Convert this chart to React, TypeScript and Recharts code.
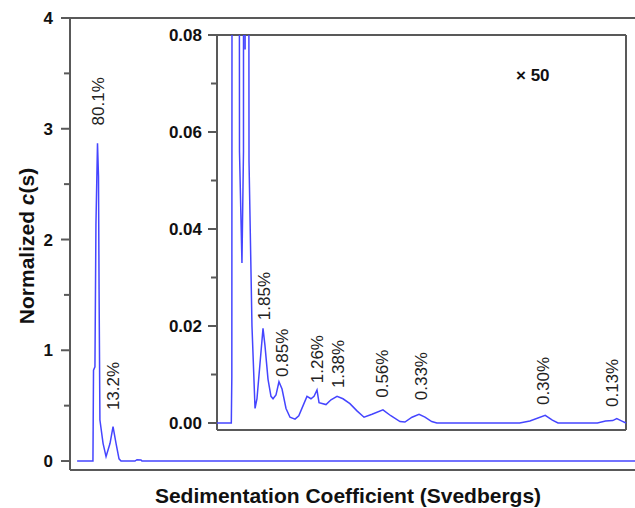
import React from 'react';
import { LineChart, Line, XAxis, YAxis, ReferenceLine, ReferenceDot } from 'recharts';

const FONT = '"Liberation Sans", Arial, Helvetica, sans-serif';
const BLUE = '#4545ff';
const AXIS = '#595959';

// full scale c(s) distribution (s in Svedbergs)
const mainS = [0.5, 1.61, 1.65, 1.75, 1.82, 1.93, 2.0, 2.04, 2.1, 2.32, 2.53, 2.81, 3.02, 3.23, 3.44, 3.58, 4.56, 4.7, 4.98, 5.05, 40];
const mainC = [0, 0, 0.82, 0.85, 2.13, 2.87, 2.57, 1.55, 0.37, 0.16, 0.04, 0.16, 0.31, 0.16, 0.02, 0, 0, 0.012, 0.01, 0, 0];

// inset, same distribution magnified x50
const insetS = [
  0, 1.4, 1.45, 1.56, 2.05, 2.2, 2.44, 2.59, 2.64, 2.7, 2.75, 2.8, 3.03, 3.13, 3.42, 3.72,
  3.91, 4.5, 4.69, 4.99, 5.28, 5.48, 5.77, 6.06, 6.36, 6.75, 7.14, 7.63, 8.0, 8.5, 8.8,
  9.19, 9.49, 9.78, 9.98, 10.66, 11.15, 11.74, 12.32, 13.0, 13.69, 14.38, 15.16, 16.23,
  17.0, 17.9, 18.38, 19.07, 19.76, 20.34, 21.0, 21.5, 29.6, 30.6, 32.1, 32.8, 33.35,
  37.2, 38.0, 38.7, 39.1, 39.6, 40,
];
const insetC = [
  0, 0, 0.0095, 0.5, 0.5, 0.056, 0.033, 0.056, 0.5, 0.5, 0.077, 0.5, 0.3, 0.054, 0.02, 0.003,
  0.005, 0.0195, 0.016, 0.009, 0.0055, 0.005, 0.0058, 0.0085, 0.007, 0.003, 0.0012, 0.0008, 0.0015, 0.004, 0.0055,
  0.005, 0.0055, 0.0068, 0.0042, 0.0038, 0.0048, 0.0055, 0.005, 0.004, 0.0025, 0.0012, 0.0018, 0.0027,
  0.0015, 0.0003, 0.0002, 0.0012, 0.0018, 0.0012, 0.0003, 0, 0, 0.0004, 0.0016, 0.0006, 0,
  0, 0.0004, 0.0005, 0.0009, 0.0004, 0,
];

const mainTicks = [0, 0.5, 1, 1.5, 2, 2.5, 3, 3.5, 4];
const insetTicks = [0, 0.01, 0.02, 0.03, 0.04, 0.05, 0.06, 0.07, 0.08];

// peak annotations: label, s position, value where the label starts
const mainPeakText = ['80.1%', '13.2%'];
const mainPeakS = [1.96, 3.02];
const mainPeakAt = [3.03, 0.46];

const insetPeakText = ['1.85%', '0.85%', '1.26%', '1.38%', '0.56%', '0.33%', '0.30%', '0.13%'];
const insetPeakS = [4.6, 6.36, 9.78, 11.83, 16.14, 19.95, 31.88, 38.63];
const insetPeakAt = [0.0212, 0.0095, 0.0082, 0.0072, 0.0052, 0.0047, 0.0037, 0.0033];

const MAIN_Y: [number, number] = [-0.081, 4];
const INSET_Y: [number, number] = [-0.00144, 0.08];
const S_RANGE: [number, number] = [0, 40];

const mainData = mainS.map((s, i) => ({ s, c: mainC[i] }));
const insetData = insetS.map((s, i) => ({ s, c: insetC[i] }));

const MainTick = (props: any) => {
  const { y, payload } = props;
  const v = payload.value;
  const major = Number.isInteger(v);
  return (
    <g>
      <line x1={major ? 61 : 64} x2={70} y1={y} y2={y} stroke={AXIS} strokeWidth={2} />
      {major && (
        <text x={53} y={y} dy="0.36em" textAnchor="end" fontFamily={FONT} fontWeight="bold" fontSize={17} fill="#111">
          {v}
        </text>
      )}
    </g>
  );
};

const InsetTick = (props: any) => {
  const { y, payload } = props;
  const v = payload.value;
  const major = Math.round(v * 100) % 2 === 0;
  return (
    <g>
      <line x1={major ? 58 : 61} x2={67} y1={y} y2={y} stroke={AXIS} strokeWidth={2} />
      {major && (
        <text x={52} y={y} dy="0.36em" textAnchor="end" fontFamily={FONT} fontWeight="bold" fontSize={17} fill="#111">
          {v.toFixed(2)}
        </text>
      )}
    </g>
  );
};

const InsetRightTick = (props: any) => {
  const { y } = props;
  return <line x1={470} x2={476} y1={y} y2={y} stroke={AXIS} strokeWidth={2} />;
};

const peakLabel = (text: string) => (props: any) => {
  const vb = props.viewBox || {};
  const cx = vb.x + (vb.width || 0) / 2;
  const cy = vb.y + (vb.height || 0) / 2;
  return (
    <text
      x={cx}
      y={cy}
      transform={`rotate(-90 ${cx} ${cy})`}
      textAnchor="start"
      dy="0.35em"
      fontFamily={FONT}
      fontSize={17}
      fill="#222"
    >
      {text}
    </text>
  );
};

export default function App() {
  return (
    <div
      style={{
        position: 'absolute',
        left: 0,
        top: 0,
        width: 635,
        height: 508,
        overflow: 'hidden',
        background: '#fff',
        fontFamily: FONT,
      }}
    >
      <LineChart width={645} height={508} data={mainData} margin={{ top: 18, right: 5, bottom: 38, left: 10 }}>
        <XAxis dataKey="s" type="number" domain={S_RANGE} tick={false} tickLine={false} height={0} axisLine={false} />
        <YAxis
          type="number"
          domain={MAIN_Y}
          allowDataOverflow
          ticks={mainTicks}
          interval={0}
          width={60}
          tickLine={false}
          tick={<MainTick />}
          axisLine={false}
        />
        <ReferenceLine y={MAIN_Y[1]} stroke={AXIS} strokeWidth={2} />
        <ReferenceLine y={MAIN_Y[0]} stroke={AXIS} strokeWidth={2} />
        <ReferenceLine x={S_RANGE[0]} stroke={AXIS} strokeWidth={2} />
        <Line type="linear" dataKey="c" stroke={BLUE} strokeWidth={1.5} dot={false} isAnimationActive={false} />
        {mainPeakText.map((t, i) => (
          <ReferenceDot key={t} x={mainPeakS[i]} y={mainPeakAt[i]} r={0} fill="none" stroke="none" label={{ content: peakLabel(t) }} />
        ))}
      </LineChart>

      <div style={{ position: 'absolute', left: 150, top: 20 }}>
        <LineChart width={480} height={415} data={insetData} margin={{ top: 15, right: 4, bottom: 5, left: 7 }}>
          <XAxis dataKey="s" type="number" domain={S_RANGE} tick={false} tickLine={false} height={0} axisLine={false} />
          <YAxis
            yAxisId="l"
            type="number"
            domain={INSET_Y}
            allowDataOverflow
            ticks={insetTicks}
            interval={0}
            width={60}
            tickLine={false}
            tick={<InsetTick />}
            axisLine={false}
          />
          <YAxis
            yAxisId="r"
            orientation="right"
            type="number"
            domain={INSET_Y}
            allowDataOverflow
            ticks={insetTicks}
            interval={0}
            width={0}
            tickLine={false}
            tick={<InsetRightTick />}
            axisLine={false}
          />
          <ReferenceLine yAxisId="l" y={INSET_Y[1]} stroke={AXIS} strokeWidth={2} />
          <ReferenceLine yAxisId="l" y={INSET_Y[0]} stroke={AXIS} strokeWidth={2} />
          <ReferenceLine yAxisId="l" x={S_RANGE[0]} stroke={AXIS} strokeWidth={2} />
          <ReferenceLine yAxisId="l" x={S_RANGE[1]} stroke={AXIS} strokeWidth={2} />
          <Line yAxisId="l" type="linear" dataKey="c" stroke={BLUE} strokeWidth={1.5} dot={false} isAnimationActive={false} />
          {insetPeakText.map((t, i) => (
            <ReferenceDot key={t} yAxisId="l" x={insetPeakS[i]} y={insetPeakAt[i]} r={0} fill="none" stroke="none" label={{ content: peakLabel(t) }} />
          ))}
        </LineChart>
      </div>

      <div style={{ position: 'absolute', left: 516, top: 65, fontSize: 17, fontWeight: 'bold', lineHeight: '22px', color: '#111' }}>
        × 50
      </div>

      <div
        style={{
          position: 'absolute',
          left: 27,
          top: 246,
          transform: 'translate(-50%, -50%) rotate(-90deg)',
          whiteSpace: 'nowrap',
          fontSize: 21,
          fontWeight: 'bold',
          lineHeight: '24px',
          color: '#111',
        }}
      >
        Normalized <i>c</i>(s)
      </div>

      <div
        style={{
          position: 'absolute',
          left: 98,
          width: 500,
          top: 484,
          textAlign: 'center',
          whiteSpace: 'nowrap',
          fontSize: 21,
          fontWeight: 'bold',
          lineHeight: '24px',
          color: '#111',
        }}
      >
        Sedimentation Coefficient (Svedbergs)
      </div>
    </div>
  );
}
